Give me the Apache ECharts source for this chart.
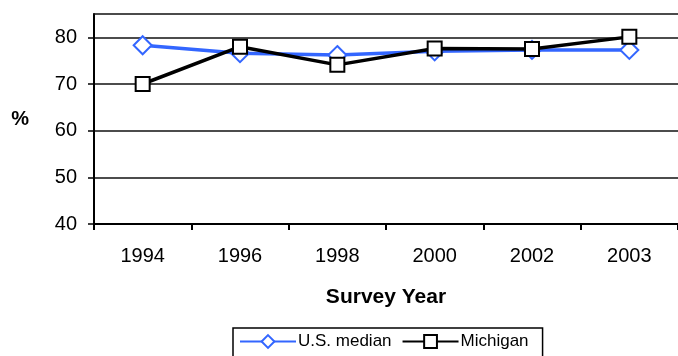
<!DOCTYPE html>
<html>
<head>
<meta charset="utf-8">
<script src="https://cdn.jsdelivr.net/npm/echarts@6/dist/echarts.min.js"></script>
<style>html,body{margin:0;padding:0;background:#fff;}#c{width:678px;height:356px;}</style>
</head>
<body>
<div id="c"></div>
<script>
var years = ['1994', '1996', '1998', '2000', '2002', '2003'];
var usMedian = [78.3, 76.6, 76.2, 77.0, 77.3, 77.3];
var michigan = [70.0, 78.0, 74.1, 77.6, 77.5, 80.1];
var yTicks = [40, 50, 60, 70, 80];

var chart = echarts.init(document.getElementById('c'), null, {renderer: 'canvas'});
var font = 'Liberation Sans, Arial, sans-serif';
chart.setOption({
  animation: false,
  backgroundColor: '#fff',
  grid: {left: 94, right: -4, top: 14, bottom: 132, containLabel: false},
  xAxis: [{
    type: 'category',
    data: years,
    boundaryGap: true,
    name: 'Survey Year',
    nameLocation: 'middle',
    nameGap: 63,
    nameTextStyle: {fontFamily: font, fontSize: 21, fontWeight: 'bold', color: '#000', verticalAlign: 'top'},
    axisLine: {lineStyle: {color: '#000', width: 2}},
    axisTick: {show: true, alignWithLabel: false, length: 6, lineStyle: {color: '#000', width: 2}},
    axisLabel: {fontFamily: font, fontSize: 20, color: '#000', margin: 22}
  }, {
    type: 'category',
    data: years,
    position: 'top',
    axisLine: {show: true, lineStyle: {color: '#111', width: 1.5}},
    axisTick: {show: false},
    axisLabel: {show: false},
    splitLine: {show: false}
  }],
  yAxis: {
    type: 'value',
    min: 40,
    max: 85,
    interval: 10,
    name: '%',
    nameLocation: 'middle',
    nameRotate: 0,
    nameGap: 65,
    nameTextStyle: {fontFamily: font, fontSize: 20, fontWeight: 'bold', color: '#000'},
    axisLine: {show: true, lineStyle: {color: '#000', width: 2}},
    axisTick: {show: true, length: 6, customValues: yTicks, lineStyle: {color: '#000', width: 1.5}},
    splitLine: {show: true, lineStyle: {color: '#111', width: 1.5}},
    axisLabel: {
      fontFamily: font, fontSize: 20, color: '#000', margin: 17,
      customValues: yTicks,
      formatter: function (v) { return yTicks.indexOf(v) >= 0 ? String(v) : ''; }
    }
  },
  legend: {
    left: 233,
    top: 328,
    orient: 'horizontal',
    backgroundColor: '#fff',
    borderColor: '#000',
    borderWidth: 1.5,
    borderRadius: 0,
    padding: [5, 14, 8, 6],
    itemWidth: 56,
    itemHeight: 16,
    itemGap: 10,
    textStyle: {fontFamily: font, fontSize: 17, color: '#000', padding: [0, 0, 0, -3]},
    data: ['U.S. median', 'Michigan']
  },
  series: [
    {
      name: 'U.S. median',
      type: 'line',
      data: usMedian,
      symbol: 'diamond',
      symbolSize: [18, 18],
      showAllSymbol: true,
      lineStyle: {color: '#3366ff', width: 3.5},
      itemStyle: {color: '#fff', borderColor: '#3366ff', borderWidth: 2},
      z: 2
    },
    {
      name: 'Michigan',
      type: 'line',
      data: michigan,
      symbol: 'rect',
      symbolSize: 14,
      showAllSymbol: true,
      lineStyle: {color: '#000', width: 3.5},
      itemStyle: {color: '#fff', borderColor: '#000', borderWidth: 2},
      z: 3
    }
  ]
});
</script>
</body>
</html>
